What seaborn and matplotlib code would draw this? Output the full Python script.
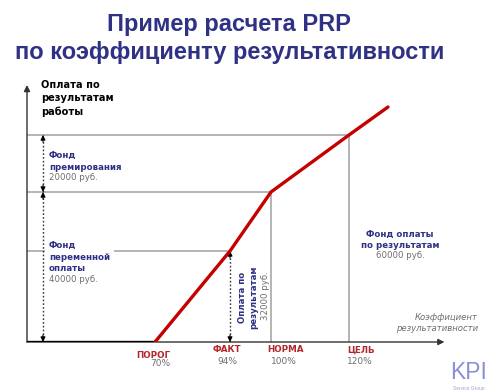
import numpy as np
import matplotlib
matplotlib.use("Agg")
import matplotlib.pyplot as plt
import seaborn as sns

# ---------------- data ----------------
pay_pct = [70, 94, 100, 120, 130]            # coefficient of performance, %
pay_rub = [0, 32000, 40000, 60000, 70000]    # payment, rub.
base_pct = [30, 70]
base_rub = [0, 0]

point_names = ["ПОРОГ", "ФАКТ", "НОРМА", "ЦЕЛЬ"]
point_pcts = [70, 94, 100, 120]

fund_bonus = 20000
fund_variable = 40000
fund_total = 60000
fact_pay = 32000

# ---------------- layout (schematic, non-uniform axis scales) ----------------
W, H = 500, 390
x_anchor_val = [30, 70, 94, 100, 145]
x_anchor_pos = [27, 155, 230, 271, 446.5]
y_anchor_val = [0, 32000, 40000, 60000, 70000, 77700]
y_anchor_pos = [48, 139, 198, 255, 283, 305]

NAVY = "#2e3184"
GRAY = "#6e6e6e"
RED = "#c40000"
LRED = "#b3262c"
LINE = "#a8a8a8"
FS = 6.2

sns.set_style("white")
plt.rcParams['font.family'] = ['DejaVu Sans']

fig = plt.figure(figsize=(W / 100, H / 100), dpi=100)
ax = fig.add_axes([x_anchor_pos[0] / W, y_anchor_pos[0] / H,
                   (x_anchor_pos[-1] - x_anchor_pos[0]) / W,
                   (y_anchor_pos[-1] - y_anchor_pos[0]) / H])

# reference lines
ax.hlines([fund_total, fund_variable, fact_pay], 30,
          [point_pcts[3], point_pcts[2], point_pcts[1]], color=LINE, lw=1.2, zorder=1)
ax.vlines([point_pcts[2], point_pcts[3]], 0, [fund_variable, fund_total],
          color=LINE, lw=1.2, zorder=1)

# payment curve
sns.lineplot(x=base_pct, y=base_rub, ax=ax, color="black", lw=2.4, sort=False, zorder=4)
sns.lineplot(x=pay_pct, y=pay_rub, ax=ax, color=RED, lw=2.4, sort=False, zorder=5)

fx = lambda v: np.interp(v, x_anchor_val, x_anchor_pos)
ix = lambda p: np.interp(p, x_anchor_pos, x_anchor_val)
fy = lambda v: np.interp(v, y_anchor_val, y_anchor_pos)
iy = lambda p: np.interp(p, y_anchor_pos, y_anchor_val)
ax.set_xscale('function', functions=(fx, ix))
ax.set_yscale('function', functions=(fy, iy))
ax.set_xlim(x_anchor_val[0], x_anchor_val[-1])
ax.set_ylim(y_anchor_val[0], y_anchor_val[-1])
ax.set_xticks([]); ax.set_yticks([])
ax.minorticks_off()
for s in ax.spines.values():
    s.set_visible(False)
ax.patch.set_alpha(0)

# axes with arrows
ax.annotate("", xy=(0, 1), xytext=(0, 0), xycoords='axes fraction',
            arrowprops=dict(arrowstyle='-|>', color='#333333', lw=1, mutation_scale=9,
                            shrinkA=0, shrinkB=0), annotation_clip=False)
ax.annotate("", xy=(0.995, 0), xytext=(0, 0), xycoords='axes fraction',
            arrowprops=dict(arrowstyle='-|>', color='#333333', lw=1, mutation_scale=9,
                            shrinkA=0, shrinkB=0), annotation_clip=False, zorder=2)

# dotted double arrows
def darrow(x, y0, y1):
    ax.vlines(x, y0, y1, color='#333333', lw=1, linestyles=(0, (1.2, 1.5)), zorder=3)
    for y, d in ((y1, -7), (y0, 7)):
        ax.annotate("", xy=(x, y), xytext=(0, d), xycoords='data', textcoords='offset pixels',
                    arrowprops=dict(arrowstyle='-|>', color='black', lw=0.8,
                                    mutation_scale=7, shrinkA=0, shrinkB=0))

darrow(35, fund_variable, fund_total)
darrow(35, 0, fund_variable)
darrow(point_pcts[1], 0, fact_pay)

# texts in figure pixels
def t(x, y, s, **kw):
    kw.setdefault('va', 'center')
    return fig.text(x / W, 1 - y / H, s, **kw)

t(229, 25, "Пример расчета PRP", ha='center', color=NAVY, fontsize=17,
  fontweight='bold', family='Liberation Sans')
t(230, 52, "по коэффициенту результативности", ha='center', color=NAVY, fontsize=17,
  fontweight='bold', family='Liberation Sans')

t(41, 80, "Оплата по\nрезультатам\nработы", va='top', ha='left', fontsize=7.1,
  fontweight='bold', color='black', linespacing=1.4)

t(49, 161.5, "Фонд\nпремирования", ha='left', fontsize=FS, fontweight='bold',
  color=NAVY, linespacing=1.35)
t(49, 178, f"{fund_bonus} руб.", ha='left', fontsize=FS, color=GRAY)

t(49, 257, "Фонд\nпеременной\nоплаты", ha='left', fontsize=FS, fontweight='bold',
  color=NAVY, linespacing=1.35,
  bbox=dict(fc='white', ec='none', pad=3))
t(49, 279.5, f"{fund_variable} руб.", ha='left', fontsize=FS, color=GRAY)

t(248.5, 297, "Оплата по\nрезультатам", ha='center', fontsize=FS, fontweight='bold',
  color=NAVY, rotation=90, linespacing=1.35)
t(266, 296, f"{fact_pay} руб.", ha='center', fontsize=FS, color=GRAY, rotation=90)

t(400, 240, "Фонд оплаты\nпо результатам", ha='center', fontsize=FS, fontweight='bold',
  color=NAVY, linespacing=1.35)
t(400, 255, f"{fund_total} руб.", ha='center', fontsize=FS, color=GRAY)

t(478, 323, "Коэффициент\nрезультативности", ha='right', fontsize=6.1, style='italic',
  color=GRAY, linespacing=1.35, multialignment='right')

label_offsets = [(-2, -14), (-3, -8), (14, -8), (12, -8)]
pct_offsets = [(5, -22), (-3, -19), (13, -19), (11, -19)]
for name, pct, lo, po in zip(point_names, point_pcts, label_offsets, pct_offsets):
    ax.annotate(name, xy=(pct, 0), xytext=lo, textcoords='offset pixels', ha='center',
                va='center', fontsize=6.3, fontweight='bold', color=LRED, annotation_clip=False)
    ax.annotate(f"{pct}%", xy=(pct, 0), xytext=po, textcoords='offset pixels', ha='center',
                va='center', fontsize=6.5, color=GRAY, annotation_clip=False)

# logo
t(469, 379, "KPI", ha='center', va='baseline', fontsize=16.5, color='#8c8ed8',
  family='Liberation Sans')
t(469, 388.5, "Service Group", ha='center', fontsize=3.5, color='#a0a2dc',
  family='Liberation Sans')

fig.savefig("out.png", dpi=100)
